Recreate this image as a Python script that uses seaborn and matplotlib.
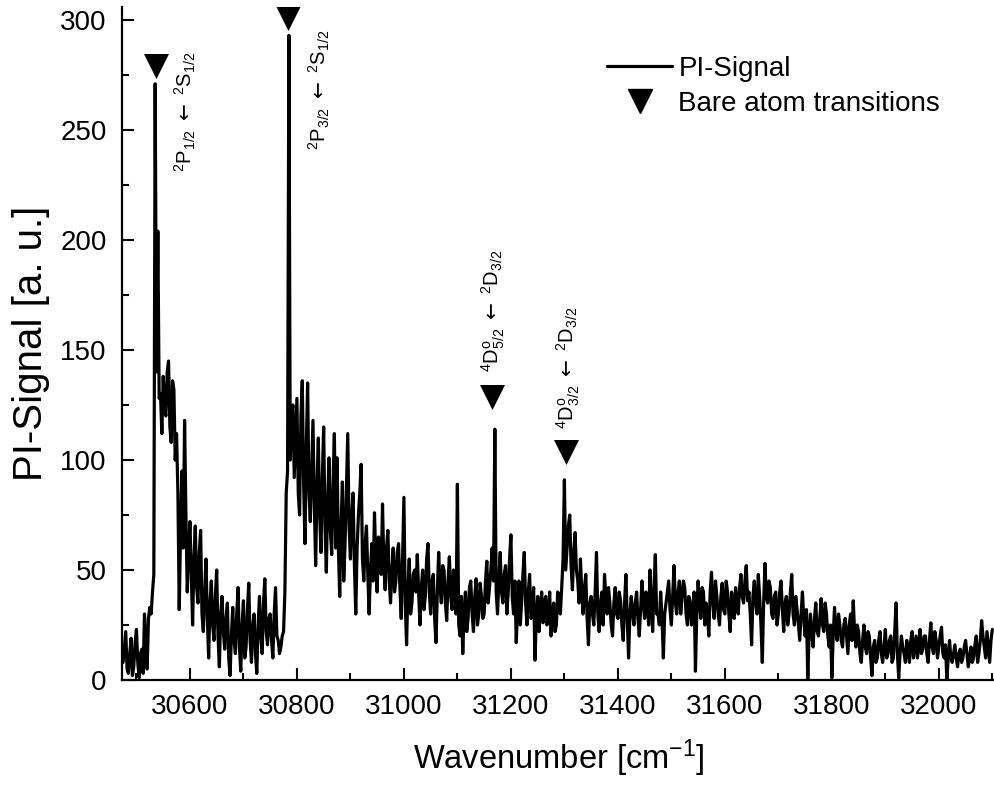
import numpy as np
import pandas as pd
import matplotlib
matplotlib.use("Agg")
import matplotlib.pyplot as plt
from matplotlib.lines import Line2D
from matplotlib.ticker import MultipleLocator
import seaborn as sns

# ---------------- data ----------------
# PI signal read on a 5 cm-1 grid starting at 30475 cm-1
wn_start = 30475
wn_step = 5
signal = [
    8, 22, 3, 19, 6, 23, 1, 14, 30, 5,
    33, 40, 271, 204, 130, 138, 120, 145, 108, 132,
    112, 32, 95, 118, 40, 72, 25, 70, 35, 68,
    22, 55, 10, 45, 18, 50, 6, 38, 14, 35,
    2, 33, 12, 42, 4, 36, 15, 44, 8, 30,
    3, 38, 12, 46, 16, 30, 10, 42, 18, 15,
    22, 85, 293, 120, 92, 128, 75, 136, 62, 135,
    72, 118, 52, 110, 58, 115, 49, 101, 57, 112,
    101, 38, 90, 62, 112, 55, 85, 30, 75, 98,
    45, 70, 30, 62, 76, 40, 58, 80, 41, 68,
    35, 60, 45, 62, 28, 83, 16, 55, 35, 50,
    57, 25, 50, 38, 62, 30, 48, 17, 58, 35,
    50, 27, 56, 32, 45, 89, 20, 12, 40, 28,
    45, 22, 46, 30, 38, 30, 54, 42, 60, 114,
    30, 58, 35, 52, 40, 66, 30, 17, 45, 35,
    58, 25, 48, 30, 9, 38, 32, 26, 38, 30,
    20, 35, 25, 38, 42, 91, 60, 75, 41, 67,
    45, 55, 30, 48, 16, 38, 25, 58, 22, 40,
    48, 30, 35, 20, 42, 28, 36, 18, 48, 10,
    38, 25, 40, 20, 45, 28, 35, 50, 22, 57,
    30, 40, 10, 35, 45, 25, 52, 30, 45, 38,
    42, 25, 36, 30, 4, 45, 28, 40, 35, 20,
    49, 28, 38, 25, 44, 30, 40, 22, 35, 42,
    30, 48, 35, 52, 40, 16, 45, 30, 38, 8,
    53, 35, 42, 28, 40, 30, 45, 22, 38, 30,
    48, 25, 32, 18, 40, 20, 0, 30, 15, 35,
    20, 37, 22, 30, 15, 1, 33, 18, 25, 15,
    28, 12, 30, 36, 15, 22, 8, 25, 12, 20,
    2, 18, 10, 22, 8, 23, 12, 20, 10, 35,
    1, 20, 12, 18, 8, 22, 15, 10, 23, 14,
    20, 8, 26, 12, 18, 15, 24, 10, 0, 18,
    8, 16, 6, 14, 10, 18, 6, 15, 10, 20,
    12, 27, 15, 22, 8, 23,
]
# PI signal read between those grid points (30477.5, 30482.5, ...)
signal_mid = [
    15, 5, 12, 2, 17, 8, 12, 3, 18, 28,
    30, 48, 140, 128, 112, 124, 140, 115, 136, 100,
    85, 68, 60, 75, 58, 48, 55, 42, 58, 30,
    40, 28, 35, 25, 38, 20, 30, 22, 28, 10,
    20, 18, 30, 15, 25, 10, 32, 18, 25, 12,
    25, 20, 35, 22, 28, 18, 30, 20, 12, 20,
    40, 95, 100, 125, 110, 85, 120, 90, 105, 85,
    95, 80, 88, 75, 92, 70, 82, 68, 90, 60,
    60, 70, 45, 88, 70, 75, 52, 60, 85, 55,
    62, 48, 50, 45, 55, 65, 48, 52, 60, 45,
    50, 40, 58, 42, 55, 35, 42, 30, 48, 40,
    40, 42, 32, 55, 40, 45, 28, 40, 42, 52,
    35, 45, 38, 50, 30, 25, 38, 30, 22, 42,
    30, 38, 25, 44, 28, 45, 35, 50, 45, 40,
    45, 40, 48, 30, 55, 38, 45, 32, 25, 48,
    35, 40, 28, 42, 28, 22, 40, 35, 25, 40,
    30, 22, 40, 30, 55, 50, 70, 52, 58, 50,
    35, 40, 42, 28, 35, 30, 40, 30, 35, 25,
    38, 42, 25, 35, 30, 40, 25, 35, 28, 30,
    30, 35, 28, 32, 35, 40, 25, 35, 42, 30,
    25, 28, 30, 40, 32, 38, 35, 40, 30, 45,
    30, 38, 25, 40, 30, 35, 42, 25, 30, 40,
    35, 45, 30, 38, 32, 45, 30, 40, 28, 35,
    42, 38, 45, 36, 30, 38, 35, 48, 25, 35,
    38, 45, 30, 38, 25, 40, 32, 35, 25, 40,
    30, 38, 25, 30, 28, 32, 22, 20, 28, 22,
    28, 25, 35, 20, 25, 20, 22, 30, 18, 25,
    20, 25, 18, 22, 25, 12, 18, 15, 22, 10,
    15, 8, 18, 12, 15, 10, 18, 8, 22, 12,
    12, 15, 8, 14, 18, 10, 20, 15, 12, 20,
    12, 18, 15, 22, 10, 20, 12, 16, 10, 10,
    12, 10, 12, 8, 15, 12, 10, 8, 16, 8,
    18, 20, 10, 15, 18,
]
wavenumber = [wn_start + wn_step * i for i in range(len(signal))]
wavenumber_mid = [wn_start + wn_step * i + wn_step / 2 for i in range(len(signal_mid))]

# bare atom transitions (marker positions) and labels
trans_wn = [30536, 30784, 31165, 31303]
trans_y = [279, 301, 128.5, 103.5]

label_wn = [30591, 30842, 31168, 31307]
label_y = [258, 268, 168, 142]
ARROW = r"\ \mathsf{\leftarrow}\ "
label_text = [
    r"$^{2}\mathrm{P}_{1/2}" + ARROW + r"^{2}\mathrm{S}_{1/2}$",
    r"$^{2}\mathrm{P}_{3/2}" + ARROW + r"^{2}\mathrm{S}_{1/2}$",
    r"$^{4}\mathrm{D}^{\mathrm{o}}_{5/2}" + ARROW + r"^{2}\mathrm{D}_{3/2}$",
    r"$^{4}\mathrm{D}^{\mathrm{o}}_{3/2}" + ARROW + r"^{2}\mathrm{D}_{3/2}$",
]

x_ticks = [30600, 30800, 31000, 31200, 31400, 31600, 31800, 32000]
y_ticks = [0, 50, 100, 150, 200, 250, 300]

# ---------------- style ----------------
sns.set_style("ticks")
plt.rcParams["font.family"] = ["Liberation Sans", "DejaVu Sans"]
plt.rcParams["mathtext.fontset"] = "custom"
plt.rcParams["mathtext.rm"] = "Liberation Sans"
plt.rcParams["mathtext.it"] = "Liberation Sans:italic"
plt.rcParams["mathtext.bf"] = "Liberation Sans:bold"
plt.rcParams["mathtext.sf"] = "DejaVu Sans"
for key in ["text.color", "axes.labelcolor", "xtick.color", "ytick.color",
            "axes.edgecolor"]:
    plt.rcParams[key] = "black"

fig = plt.figure(figsize=(9.95, 7.85), dpi=100)
ax = fig.add_axes([122 / 995, 1 - 680 / 785, (995 - 122) / 995, (680 - 6.8) / 785])

df = pd.DataFrame({"Wavenumber": wavenumber + wavenumber_mid,
                   "Signal": signal + signal_mid}).sort_values("Wavenumber")
sns.lineplot(data=df, x="Wavenumber", y="Signal", ax=ax, color="black",
             linewidth=2.3, estimator=None, sort=True)

tdf = pd.DataFrame({"x": trans_wn, "y": trans_y})
sns.scatterplot(data=tdf, x="x", y="y", ax=ax, marker="v", s=18 ** 2,
                color="black", edgecolor="black", linewidth=0, zorder=5)

for xw, yv, t in zip(label_wn, label_y, label_text):
    ax.text(xw, yv, t, rotation=90, ha="center", va="center", fontsize=14.5)

ax.set_xlim(30473, 32105)
ax.set_ylim(0, 306)
ax.set_xticks(x_ticks)
ax.set_yticks(y_ticks)
ax.xaxis.set_minor_locator(MultipleLocator(100))
ax.yaxis.set_minor_locator(MultipleLocator(25))
ax.tick_params(which="major", direction="in", length=8.5, width=1.5,
               labelsize=20, colors="black")
ax.tick_params(which="minor", direction="in", length=5, width=1.5)
ax.tick_params(axis="x", which="major", pad=10)
ax.tick_params(axis="y", which="major", pad=11)

for s in ["top", "right"]:
    ax.spines[s].set_visible(False)
for s in ["left", "bottom"]:
    ax.spines[s].set_linewidth(1.6)
    ax.spines[s].set_color("black")

ax.set_xlabel(r"Wavenumber [cm$^{-1}$]", fontsize=23.5, labelpad=13)
ax.set_ylabel("PI-Signal [a. u.]", fontsize=29, labelpad=7)

handles = [
    Line2D([], [], color="black", lw=2.3, label="PI-Signal"),
    Line2D([], [], color="black", lw=0, marker="v", markersize=17,
           label="Bare atom transitions"),
]
ax.legend(handles=handles, loc="upper left", frameon=False, fontsize=20,
          bbox_to_anchor=(607 / 995, 1 - 56 / 785),
          bbox_transform=fig.transFigure,
          handlelength=2.35, handletextpad=0.22, labelspacing=0.32,
          borderaxespad=0, borderpad=0)

fig.savefig("out.png", dpi=100)
